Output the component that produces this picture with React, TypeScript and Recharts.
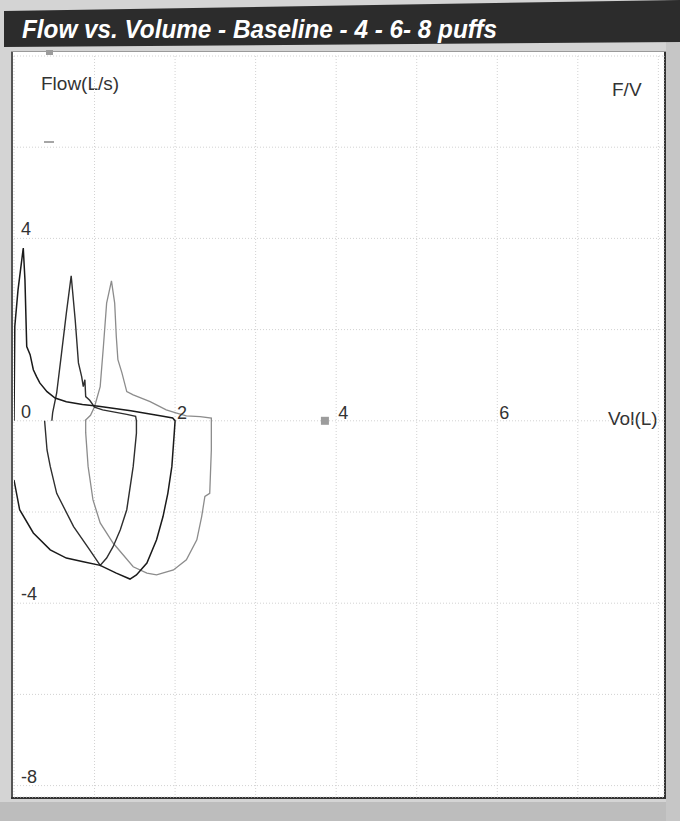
import React from 'react';
import { LineChart, Line, XAxis, YAxis, CartesianGrid, ReferenceDot } from 'recharts';

const TITLE = 'Flow vs. Volume - Baseline - 4 - 6- 8 puffs';
const Y_AXIS_TITLE = 'Flow(L/s)';
const X_AXIS_TITLE = 'Vol(L)';
const CORNER_TAG = 'F/V';

const X_GRID = [0, 1, 2, 3, 4, 5, 6, 7, 8];
const Y_GRID = [-8, -6, -4, -2, 0, 2, 4, 6, 8];
const X_LABELS = [2, 4, 6];
const Y_LABELS = [4, 0, -4, -8];

// Loop 1 (baseline trial, black)
const loop1Vol = [0, 0.01, 0.05, 0.115, 0.136, 0.158, 0.2, 0.24, 0.28, 0.32, 0.41, 0.51, 0.65, 0.85, 1.05, 1.25, 1.45, 1.65, 1.85, 1.97, 2.0, 1.99, 1.96, 1.91, 1.85, 1.77, 1.65, 1.52, 1.44, 1.27, 1.07, 0.86, 0.65, 0.45, 0.24, 0.07, 0];
const loop1Flow = [0, 2.07, 2.87, 3.79, 3.09, 1.63, 1.45, 1.12, 0.97, 0.83, 0.64, 0.5, 0.42, 0.36, 0.32, 0.27, 0.22, 0.16, 0.1, 0.06, 0, -0.26, -1.0, -1.59, -2.1, -2.61, -3.12, -3.38, -3.47, -3.34, -3.17, -3.09, -3.01, -2.83, -2.46, -1.95, -1.3];

// Loop 2 (dark grey)
const loop2Vol = [0.47, 0.48, 0.53, 0.59, 0.65, 0.71, 0.76, 0.8, 0.84, 0.86, 0.88, 0.89, 0.94, 1.0, 1.1, 1.25, 1.4, 1.51, 1.52, 1.52, 1.48, 1.4, 1.32, 1.23, 1.15, 1.07, 0.94, 0.74, 0.53, 0.45, 0.41, 0.38];
const loop2Flow = [0, 0.18, 0.61, 1.48, 2.36, 3.18, 2.21, 1.27, 0.97, 0.75, 0.9, 0.53, 0.45, 0.3, 0.24, 0.19, 0.14, 0.1, 0, -0.27, -1.0, -1.95, -2.39, -2.76, -3.01, -3.17, -2.83, -2.32, -1.59, -1.0, -0.64, 0];

// Loop 3 (light grey)
const loop3Vol = [0.88, 0.95, 1.0, 1.07, 1.11, 1.15, 1.21, 1.25, 1.27, 1.29, 1.34, 1.4, 1.48, 1.69, 1.89, 2.02, 2.14, 2.31, 2.45, 2.45, 2.45, 2.43, 2.37, 2.33, 2.27, 2.14, 1.98, 1.77, 1.65, 1.48, 1.23, 1.07, 0.98, 0.92, 0.89, 0.89];
const loop3Flow = [0, 0.12, 0.31, 0.75, 1.63, 2.58, 3.07, 2.58, 1.85, 1.34, 1.05, 0.64, 0.57, 0.42, 0.24, 0.17, 0.11, 0.09, 0.06, 0, -0.64, -1.59, -1.66, -2.1, -2.61, -3.05, -3.27, -3.38, -3.34, -3.2, -2.68, -2.24, -1.73, -1.0, -0.26, 0];

const zip = (v: number[], f: number[]) => v.map((x, i) => ({ x, y: f[i] }));
const loop1 = zip(loop1Vol, loop1Flow);
const loop2 = zip(loop2Vol, loop2Flow);
const loop3 = zip(loop3Vol, loop3Flow);

const FONT = '"Liberation Sans", Arial, sans-serif';

const W = 680;
const H = 821;
const PLOT = { left: 14, top: 56, right: 664, bottom: 797 };

const tickText = (text: string, dx: number, dy: number) => (props: any) => {
  const vb = props.viewBox || {};
  const cx = (vb.x ?? 0) + (vb.width ?? 0) / 2;
  const cy = (vb.y ?? 0) + (vb.height ?? 0) / 2;
  return (
    <text x={cx + dx} y={cy + dy} fontSize={18} fontFamily={FONT} fill="#333" textAnchor="start">
      {text}
    </text>
  );
};

export default function App() {
  return (
    <div style={{ position: 'absolute', left: 0, top: 0, width: W, height: H, overflow: 'hidden', background: '#d4d4d4' }}>
      <svg width={W} height={H} style={{ position: 'absolute', left: 0, top: 0 }}>
        <rect x={0} y={802} width={W} height={19} fill="#bdbdbd" />
        <rect x={666} y={0} width={14} height={H} fill="#c6c6c6" />
        <rect x={11} y={51} width={655} height={748} fill="#ffffff" />
        <line x1={12} y1={51} x2={12} y2={798} stroke="#555" strokeWidth={2} />
        <line x1={11} y1={798} x2={666} y2={798} stroke="#333" strokeWidth={2} />
        <line x1={665} y1={51} x2={665} y2={799} stroke="#333" strokeWidth={2} />
        <line x1={11} y1={51.5} x2={666} y2={51.5} stroke="#9a9a9a" strokeWidth={1} />
        <polygon points="4,11 680,0 680,42 4,47" fill="#2c2c2c" />
        <text x={22} y={38} fill="#ffffff" fontFamily={FONT} fontWeight="bold" fontStyle="italic" fontSize={25} textLength={475} lengthAdjust="spacingAndGlyphs">
          {TITLE}
        </text>
        <text x={41} y={90} fill="#333" fontFamily={FONT} fontSize={19}>{Y_AXIS_TITLE}</text>
        <text x={612} y={96} fill="#333" fontFamily={FONT} fontSize={19}>{CORNER_TAG}</text>
        <text x={608} y={425} fill="#333" fontFamily={FONT} fontSize={19}>{X_AXIS_TITLE}</text>
        <rect x={46} y={50} width={7} height={5} fill="#9c9c9c" />
        <line x1={44} y1={142} x2={54} y2={142} stroke="#888" strokeWidth={1.5} />
      </svg>
      <div style={{ position: 'absolute', left: 0, top: 0 }}>
        <LineChart
          width={W}
          height={H}
          margin={{ top: PLOT.top, right: W - PLOT.right, bottom: H - PLOT.bottom, left: PLOT.left }}
        >
          <XAxis type="number" dataKey="x" domain={[0, 8.07]} ticks={X_GRID} hide height={0} allowDataOverflow />
          <YAxis type="number" dataKey="y" domain={[-8.25, 8]} ticks={Y_GRID} hide width={0} allowDataOverflow />
          <CartesianGrid stroke="#d2d2d2" strokeDasharray="1 2" />
          {Y_LABELS.map((v) => (
            <ReferenceDot key={'y' + v} x={0} y={v} r={1} fill="none" stroke="none" label={tickText(String(v), 7, -3)} />
          ))}
          {X_LABELS.map((v) => (
            <ReferenceDot key={'x' + v} x={v} y={0} r={1} fill="none" stroke="none" label={tickText(String(v), 2, -2)} />
          ))}
          <ReferenceDot
            x={3.86}
            y={0}
            r={4}
            shape={(p: any) => <rect x={p.cx - 4} y={p.cy - 4} width={8} height={8} fill="#9c9c9c" />}
          />
          <Line data={loop3} dataKey="y" type="linear" stroke="#8c8c8c" strokeWidth={1.3} dot={false} isAnimationActive={false} />
          <Line data={loop2} dataKey="y" type="linear" stroke="#2e2e2e" strokeWidth={1.4} dot={false} isAnimationActive={false} />
          <Line data={loop1} dataKey="y" type="linear" stroke="#1a1a1a" strokeWidth={1.5} dot={false} isAnimationActive={false} />
        </LineChart>
      </div>
    </div>
  );
}
